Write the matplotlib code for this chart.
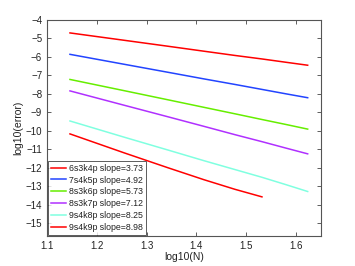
import matplotlib
matplotlib.use("Agg")
import matplotlib.pyplot as plt
import numpy as np

plt.rcParams['font.family'] = ['Liberation Sans', 'DejaVu Sans']

N = [14, 18, 22, 26, 30, 34, 38, 42]
labels = ["6s3k4p slope=3.73", "7s4k5p slope=4.92", "8s3k6p slope=5.73",
          "8s3k7p slope=7.12", "9s4k8p slope=8.25", "9s4k9p slope=8.98"]
colors = ["#ff0000", "#2244ff", "#66ee00", "#b030ff", "#80ffe0", "#ff0000"]

err_6s3k4p = [-4.70, -5.10, -5.42, -5.69, -5.92, -6.11, -6.29, -6.45]
err_7s4k5p = [-5.86, -6.40, -6.83, -7.19, -7.49, -7.76, -8.00, -8.21]
err_8s3k6p = [-7.22, -7.83, -8.32, -8.73, -9.08, -9.39, -9.66, -9.91]
err_8s3k7p = [-7.84, -8.62, -9.24, -9.76, -10.21, -10.59, -10.94, -11.25]
err_9s4k8p = [-9.47, -10.35, -11.04, -11.62, -12.10, -12.52, -12.92, -13.29]
err_9s4k9p = [-10.17, -11.20, -12.00, -12.65, -13.17, -13.58]

series = [err_6s3k4p, err_7s4k5p, err_8s3k6p, err_8s3k7p, err_9s4k8p, err_9s4k9p]

fig = plt.figure(figsize=(3.55, 2.66), dpi=100)
ax = fig.add_axes([47/355, 30/266, (321-47)/355, (236-20)/266])

x = np.log10(N)
for vals, c, lab in zip(series, colors, labels):
    ax.plot(x[:len(vals)], vals, color=c, lw=1.1, label=lab)

ax.set_xlim(1.1, 1.65)
ax.set_ylim(-15.7, -4)
ax.set_xticks([1.1, 1.2, 1.3, 1.4, 1.5, 1.6])
ax.set_xticklabels(["1.1", "1.2", "1.3", "1.4", "1.5", "1.6"])
ax.set_yticks(range(-15, -3))
ax.set_yticklabels([f"\u2212{abs(v)}" for v in range(-15, -3)])
ax.tick_params(direction='in', top=True, right=True, labelsize=7, length=3,
               width=0.6, colors='#444444', labelcolor='#222222')
for s in ax.spines.values():
    s.set_color('#555555')
    s.set_linewidth(0.8)
ax.set_xlabel("log10(N)", fontsize=7.5, labelpad=1, color='#222222')
ax.set_ylabel("log10(error)", fontsize=7.5, labelpad=2, color='#222222')

leg = ax.legend(loc='lower left', fontsize=6.3, frameon=True, fancybox=False,
                handlelength=1.7, handletextpad=0.35, borderpad=0.35,
                labelspacing=0.33, borderaxespad=0.1)
leg.get_frame().set_edgecolor('#333333')
leg.get_frame().set_linewidth(0.7)
for t in leg.get_texts():
    t.set_color('#222222')

fig.savefig("out.png", dpi=100)
